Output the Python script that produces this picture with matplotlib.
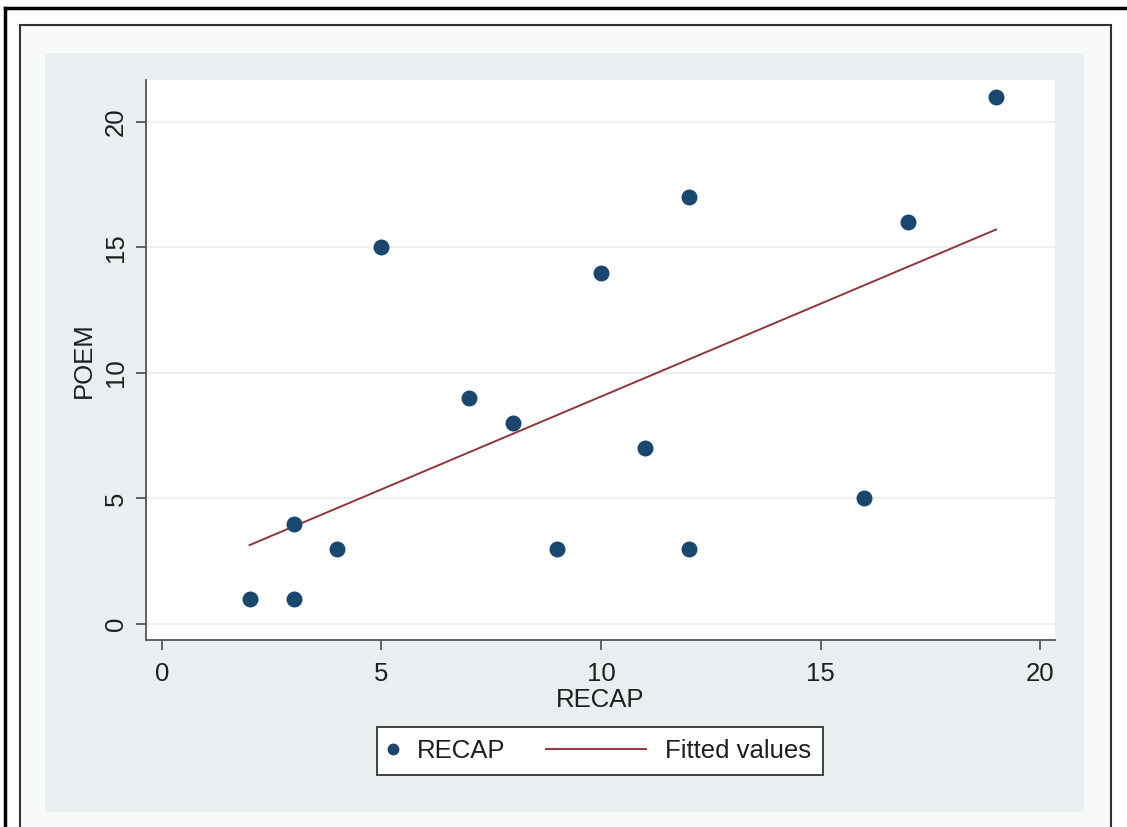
import numpy as np
import matplotlib.pyplot as plt
from matplotlib.patches import Rectangle
from matplotlib.lines import Line2D
from matplotlib.legend_handler import HandlerBase

plt.rcParams['font.family'] = ['Liberation Sans', 'DejaVu Sans']

recap = [2, 3, 3, 4, 5, 7, 8, 9, 10, 11, 12, 12, 16, 17, 19]
poem = [1, 1, 4, 3, 15, 9, 8, 3, 14, 7, 17, 3, 5, 16, 21]
xticks = [0, 5, 10, 15, 20]
yticks = [0, 5, 10, 15, 20]

navy = '#1a476f'
maroon = '#90353b'
txt = '#1e1e1e'
fs = 18.5

W, H = 1127, 827
fig = plt.figure(figsize=(W / 100, H / 100), dpi=100)
fig.patch.set_facecolor('white')

def px_rect(x0, y0, x1, y1, **kw):
    # rectangle in pixel coords, y measured from the top
    r = Rectangle((x0 / W, 1 - y1 / H), (x1 - x0) / W, (y1 - y0) / H,
                  transform=fig.transFigure, zorder=-5, **kw)
    fig.add_artist(r)

def px_line(xs, ys, **kw):
    fig.add_artist(Line2D([x / W for x in xs], [1 - y / H for y in ys],
                          transform=fig.transFigure, zorder=-4, **kw))

# frames around the graph
px_rect(20, 25, 1111, 840, facecolor='#f8f9f9', edgecolor='#333333', lw=1.5)
px_rect(45, 53, 1084, 812, facecolor='#e9eff1', edgecolor='none')
px_line([5, 5], [8, 840], color='black', lw=2.5)
px_line([5, 1127], [8, 8], color='black', lw=2.5)

ax = fig.add_axes([146 / W, 1 - 640 / H, (1055 - 146) / W, (640 - 80) / H])
ax.set_facecolor('white')

slope, intercept = np.polyfit(recap, poem, 1)
xf = np.array([min(recap), max(recap)])
pts = ax.scatter(recap, poem, s=110, color=navy, zorder=3, label='RECAP')
fit, = ax.plot(xf, intercept + slope * xf, color=maroon, lw=1.4, zorder=2,
               label='Fitted values')

ax.set_xlim(-0.36, 20.34)
ax.set_ylim(-0.64, 21.67)
ax.set_xticks(xticks)
ax.set_yticks(yticks)
ax.set_yticklabels([str(v) for v in yticks], rotation=90, va='center')
ax.grid(axis='y', color='#eaeeef', lw=1.2)
ax.set_axisbelow(True)

for s in ['top', 'right']:
    ax.spines[s].set_visible(False)
for s in ['left', 'bottom']:
    ax.spines[s].set_color('#555555')
    ax.spines[s].set_linewidth(1.3)
ax.tick_params(length=7, width=1.3, color='#555555', labelsize=fs,
               labelcolor=txt)
ax.tick_params(axis='x', pad=9)
ax.tick_params(axis='y', pad=6)

ax.set_xlabel('RECAP', fontsize=fs, color=txt, labelpad=1)
ax.set_ylabel('POEM', fontsize=fs, color=txt, labelpad=6)


# legend handles, Stata style: dot hugging its label, long line key
class DotHandler(HandlerBase):
    def create_artists(self, legend, orig, xd, yd, width, height, fontsize, trans):
        m = Line2D([-xd + 3], [-yd + height / 2], marker='o', ls='none',
                   markersize=7.5, color=navy)
        m.set_transform(trans)
        return [m]


class LongLineHandler(HandlerBase):
    def create_artists(self, legend, orig, xd, yd, width, height, fontsize, trans):
        y = -yd + height / 2
        ln = Line2D([-xd - 65, -xd + 7], [y, y], color=maroon, lw=1.4)
        ln.set_transform(trans)
        return [ln]


leg = ax.legend([pts, fit], ['RECAP', 'Fitted values'],
                handler_map={pts: DotHandler(), fit: LongLineHandler()},
                loc='center', bbox_to_anchor=(600 / W, 1 - 751 / H),
                bbox_transform=fig.transFigure, ncol=2, fontsize=fs,
                frameon=True, fancybox=False, edgecolor='#333333',
                facecolor='white', framealpha=1,
                handlelength=1.0, columnspacing=5.1, handletextpad=0.1,
                borderpad=0.45)
leg.get_frame().set_linewidth(1.3)
for t in leg.get_texts():
    t.set_color(txt)

fig.savefig('out.png', dpi=100, facecolor=fig.get_facecolor())
